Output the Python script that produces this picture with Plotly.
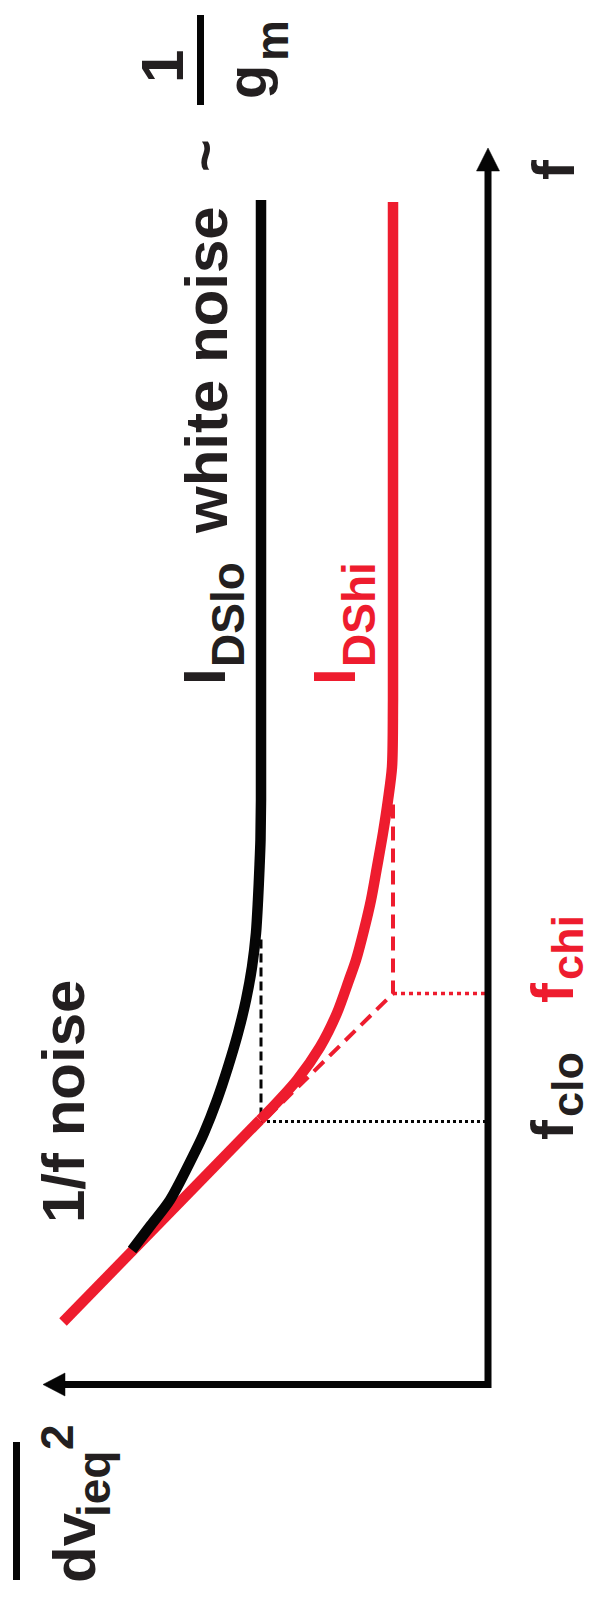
import plotly.graph_objects as go

# ---- data (abstract log units: N = log noise level, F = log frequency) ----
BLACK_N = [2.27, 2.27, 2.275, 2.285, 2.30, 2.32, 2.36, 2.42, 2.50, 2.60, 2.71, 2.84, 2.92, 3.18, 3.37, 3.56]
BLACK_F = [11.845, 5.845, 5.445, 5.175, 4.845, 4.515, 4.175, 3.845, 3.515, 3.175, 2.845, 2.515, 2.345, 1.845, 1.595, 1.345]

RED_N = [0.95, 0.95, 0.96, 1.00, 1.05, 1.11, 1.17, 1.24, 1.32, 1.39, 1.51, 1.68, 1.91, 2.21, 2.28]
RED_F = [11.825, 6.845, 6.175, 5.845, 5.515, 5.175, 4.845, 4.545, 4.245, 4.045, 3.715, 3.375, 3.045, 2.715, 2.645]

RED_1F_N = [2.28, 4.25]
RED_1F_F = [2.645, 0.625]

N_LO, N_HI = 2.27, 0.95          # white-noise levels
F_CLO, F_CHI = 2.63, 3.91        # corner frequencies
BLACK_DASH_TOP = 4.45
RED_DASH_TOP = 5.80
RED_DIAG_END = (2.20, 2.68)

AXIS_N_END, AXIS_F_END = 4.23, 12.135
ARROW_LEN, ARROW_HALF = 0.22, 0.115

RED = "#EE1C2E"
BLACK = "#050505"
TXT = "#231F20"
W, H = 595, 1603

fig = go.Figure()

def line(xs, ys, color, width, dash="solid", shape="linear"):
    fig.add_trace(go.Scatter(x=xs, y=ys, mode="lines",
                             line=dict(color=color, width=width, dash=dash, shape=shape, smoothing=0.8),
                             hoverinfo="skip", showlegend=False))

# dotted projections to the f axis
line([N_LO, 0], [F_CLO, F_CLO], BLACK, 3, "3px,3px")
line([N_HI, 0], [F_CHI, F_CHI], RED, 3.5, "4px,4px")
# dashed asymptotes
line([N_LO, N_LO], [BLACK_DASH_TOP, F_CLO], BLACK, 3, "9px,5px")
line([N_HI, N_HI, RED_DIAG_END[0]], [RED_DASH_TOP, F_CHI, RED_DIAG_END[1]], RED, 4, "14px,8px")

# noise curves
line(RED_N, RED_F, RED, 10.5, shape="spline")
line(RED_1F_N, RED_1F_F, RED, 10.5)
line(BLACK_N, BLACK_F, BLACK, 10.5, shape="spline")

# axes
line([AXIS_N_END, 0, 0], [0, 0, AXIS_F_END], BLACK, 7)
fig.add_trace(go.Scatter(x=[-ARROW_HALF, ARROW_HALF, 0, -ARROW_HALF],
                         y=[AXIS_F_END, AXIS_F_END, AXIS_F_END + ARROW_LEN + 0.01, AXIS_F_END],
                         mode="lines", fill="toself", fillcolor=BLACK, line=dict(color=BLACK, width=0.5),
                         hoverinfo="skip", showlegend=False))
fig.add_trace(go.Scatter(x=[AXIS_N_END, AXIS_N_END, AXIS_N_END + ARROW_LEN, AXIS_N_END],
                         y=[-ARROW_HALF, ARROW_HALF, 0, -ARROW_HALF],
                         mode="lines", fill="toself", fillcolor=BLACK, line=dict(color=BLACK, width=0.5),
                         hoverinfo="skip", showlegend=False))

# ---- rotated labels (pixel positions converted to paper coords) ----
FONT = "Liberation Sans, Arial, sans-serif"
labels = [
    # text, cx, cy, size, color
    ("<b>white noise</b>", 206, 370, 60, TXT),
    ("<b>I</b>", 205, 677, 60, TXT),
    ("<b>DSlo</b>", 228, 615, 46, TXT),
    ("<b>I</b>", 335, 677, 60, RED),
    ("<b>DShi</b>", 359, 615, 46, RED),
    ("<b>1/f noise</b>", 63, 1102, 60, TXT),
    ("<b>f</b>", 554, 170, 60, TXT),
    ("<b>f</b>", 552, 1130, 60, TXT),
    ("<b>clo</b>", 567, 1085, 45, TXT),
    ("<b>f</b>", 552, 993, 60, RED),
    ("<b>chi</b>", 567, 948, 45, RED),
    ("<b>1</b>", 162, 67, 60, TXT),
    ("<b>g</b>", 246, 82, 56, TXT),
    ("<b>m</b>", 272, 41, 46, TXT),
    ("<b>~</b>", 205, 156, 56, TXT),
    ("<b>dv</b>", 74, 1548, 60, TXT),
    ("<b>ieq</b>", 94, 1484, 46, TXT),
    ("<b>2</b>", 57, 1437, 46, TXT),
]
for t, cx, cy, s, c in labels:
    fig.add_annotation(text=t, x=cx / W, y=1 - cy / H, xref="paper", yref="paper",
                       xanchor="center", yanchor="middle", showarrow=False, textangle=-90,
                       font=dict(family=FONT, size=s, color=c))

# fraction / overline bars
for x0, y0, y1 in [(200.5, 15, 105), (16.5, 1442, 1580)]:
    fig.add_shape(type="line", xref="paper", yref="paper",
                  x0=x0 / W, x1=x0 / W, y0=1 - y0 / H, y1=1 - y1 / H,
                  line=dict(color=BLACK, width=7))

fig.update_layout(
    width=W, height=H, margin=dict(l=0, r=0, t=0, b=0),
    paper_bgcolor="white", plot_bgcolor="white",
    xaxis=dict(range=[4.88, 4.88 - W / 100], visible=False, fixedrange=True),
    yaxis=dict(range=[(1384.5 - H) / 100, 1384.5 / 100], visible=False, fixedrange=True),
)
fig.write_html("out.html", config={"displayModeBar": False, "staticPlot": True},
               post_script="document.body.style.margin='0';")
